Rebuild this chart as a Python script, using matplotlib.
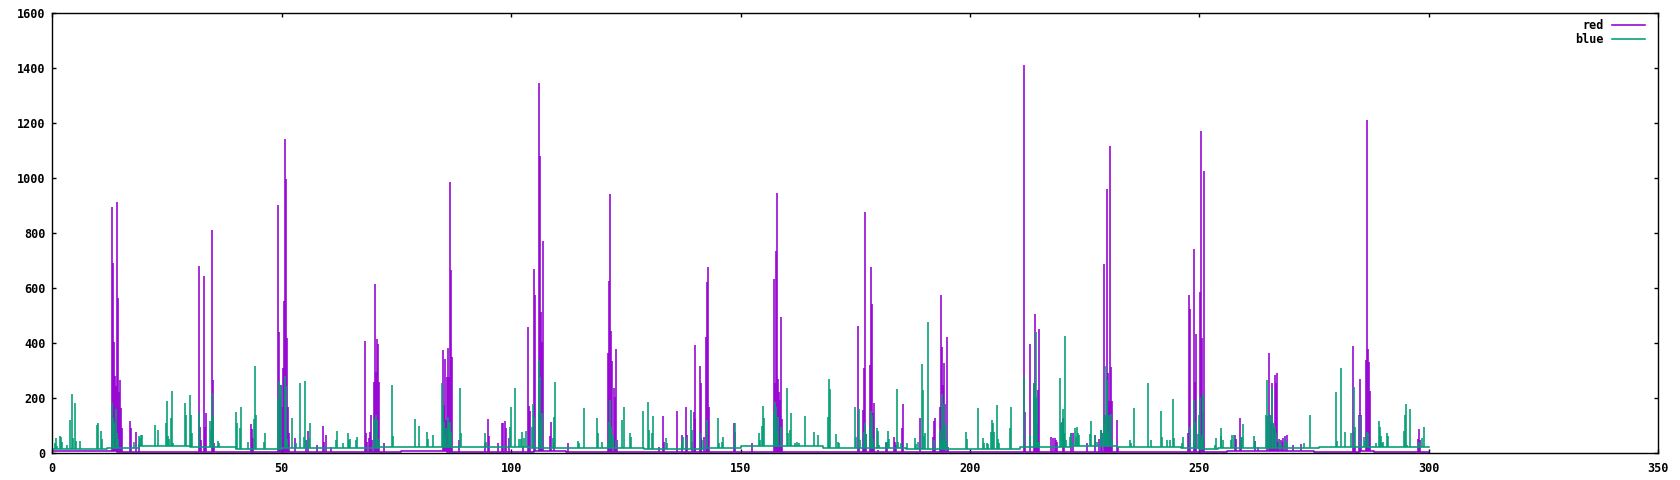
import numpy as np
import matplotlib
matplotlib.use("Agg")
import matplotlib.pyplot as plt
from matplotlib.lines import Line2D

# ---------------- data ----------------
red_x = [13.10, 13.32, 13.54, 13.76, 13.97, 14.19, 14.34, 14.56, 14.77, 14.99, 15.21, 17.03, 17.25, 18.34, 18.85,
         31.88, 32.10, 32.31, 32.97, 33.19, 33.41, 34.72, 34.93, 35.15,
         43.23, 43.45, 43.67,
         49.13, 49.34, 49.56, 49.78, 50.00, 50.22, 50.44, 50.66, 50.87, 51.09, 51.31, 51.53,
         52.91, 55.31, 55.68, 57.71, 58.95, 59.17, 59.61, 60.63,
         68.12, 68.34, 68.56, 68.92, 69.14, 69.36, 69.65, 70.09, 70.31, 70.52, 70.74, 70.96, 71.18, 72.34,
         85.15, 85.37, 85.59, 85.81, 86.03, 86.24, 86.46, 86.68, 86.90, 87.12, 88.65,
         94.32, 94.98, 95.20, 97.16, 97.96, 98.18, 98.69, 98.91, 99.56,
         102.55, 103.71, 103.93, 104.15, 105.02, 105.24, 106.11, 106.33, 106.55, 106.77, 106.99,
         108.44, 108.66, 109.32, 112.45,
         121.18, 121.40, 121.62, 121.83, 122.05, 122.49, 122.71, 122.93, 123.14,
         132.17, 133.19, 133.41, 136.24, 137.19, 138.21, 138.43, 139.37, 139.74, 139.96, 140.17,
         141.05, 141.27, 141.48, 141.92, 142.36, 142.58, 142.79, 143.01, 148.54, 148.76, 152.47,
         157.21, 157.42, 157.64, 157.86, 158.08, 158.30, 158.52, 158.73, 158.95,
         175.55, 175.76, 176.64, 176.86, 177.07, 177.29, 178.17, 178.38, 178.60, 178.82, 179.04, 179.91,
         181.66, 181.88, 183.41, 183.62, 183.84, 185.15, 185.37, 189.08, 191.92, 192.14, 192.36,
         193.45, 193.67, 193.89, 194.10, 194.32, 194.54, 194.98, 195.20,
         211.79, 212.01, 213.10, 213.97, 214.19, 214.41, 214.63, 214.85, 215.07,
         217.69, 218.12, 218.56, 218.78, 219.00, 220.31, 220.50, 222.05, 222.49, 225.55, 227.20,
         228.17, 228.60, 228.82, 229.26, 229.48, 229.69, 229.91, 230.13, 230.35, 230.57, 230.79, 231.00,
         232.10, 232.31,
         247.60, 247.82, 248.03, 248.91, 249.13, 249.34, 250.22, 250.44, 250.66, 250.87, 251.09,
         257.71, 257.93, 258.73, 258.95, 262.01, 262.66,
         264.63, 265.07, 265.28, 265.50, 265.72, 265.94, 266.16, 266.38, 266.59, 266.81, 267.03, 267.25,
         267.69, 267.90, 268.12, 268.56, 269.00, 270.31, 272.05,
         283.41, 283.62, 283.84, 284.72, 284.93, 285.15, 286.24, 286.46, 286.68, 286.90, 287.12,
         297.60, 297.82, 298.03]
red_y = [896, 692, 406, 281, 245, 914, 565, 224, 267, 165, 91, 118, 92, 78, 34,
         681, 97, 48, 645, 97, 145, 812, 267, 39,
         107, 87, 57,
         903, 441, 200, 248, 170, 309, 554, 1143, 998, 419, 170, 73,
         56, 48, 81, 29, 99, 41, 67, 24,
         408, 73, 40, 55, 78, 139, 48, 261, 616, 296, 416, 398, 261, 39,
         376, 176, 343, 121, 279, 382, 279, 987, 667, 349, 48,
         36, 125, 63, 39, 109, 109, 118, 92, 55,
         24, 458, 172, 155, 669, 576, 1347, 1081, 514, 405, 772,
         63, 115, 36, 36,
         364, 627, 942, 445, 337, 239, 206, 379, 48,
         24, 136, 42, 154, 67, 170, 67, 42, 149, 394, 125,
         318, 255, 55, 61, 422, 623, 678, 170, 109, 79, 36,
         634, 257, 737, 948, 270, 224, 194, 496, 124,
         463, 24, 158, 309, 878, 70, 321, 678, 543, 145, 182, 12,
         36, 42, 58, 42, 30, 93, 179, 130, 61, 119, 127,
         167, 576, 387, 248, 327, 179, 422, 24,
         1412, 149, 398, 255, 507, 206, 103, 230, 452,
         58, 57, 55, 48, 42, 127, 72, 73, 73, 36, 66,
         51, 85, 73, 689, 139, 139, 961, 291, 190, 1118, 313, 190,
         121, 24,
         73, 576, 525, 743, 261, 434, 585, 1172, 418, 145, 1027,
         67, 51, 130, 48, 46, 24,
         137, 366, 139, 109, 255, 109, 97, 285, 255, 291, 42, 51,
         48, 42, 55, 63, 67, 30, 33,
         390, 73, 24, 139, 270, 139, 339, 1212, 379, 333, 227,
         51, 88, 48]

blue_x = [0.58, 0.87, 1.09, 1.67, 1.89, 2.11, 3.28, 3.93, 4.37, 4.59, 5.02, 5.24, 6.11,
          9.83, 10.04, 10.63, 10.84, 13.10, 13.32, 13.54, 13.97, 14.19, 14.41, 17.76,
          19.00, 19.21, 19.43, 19.65, 22.49, 23.14, 24.75, 24.89, 25.11, 25.33, 25.76, 25.98, 26.20,
          28.82, 29.04, 29.91, 30.13, 30.35, 31.88, 34.28, 34.50, 34.72, 34.93, 36.03, 36.24,
          40.10, 40.32, 40.83, 41.05, 42.58, 43.89, 44.10, 44.32, 46.14, 46.36,
          49.20, 49.42, 49.85, 50.66, 50.87, 51.09, 52.18, 53.06, 53.93, 54.80, 55.02, 55.24,
          55.90, 56.11, 61.86, 62.01, 63.32, 64.41, 64.63, 64.85, 66.16, 66.38,
          70.09, 70.52, 70.74, 71.18, 74.02, 74.24, 79.04, 79.91,
          81.66, 81.88, 82.97, 84.93, 85.15, 85.37, 85.59, 85.81, 86.24, 86.46, 86.68, 86.90,
          88.86, 89.08, 94.32, 94.54, 99.78, 100.00, 100.87, 101.75, 102.18, 102.40, 102.84, 103.28,
          104.59, 104.80, 105.02, 106.11, 106.33, 106.55, 106.77, 109.17, 109.39, 109.61,
          114.63, 114.85, 115.94, 118.78, 119.00, 119.87, 121.18, 121.40, 121.62, 121.83, 122.27, 122.93,
          124.24, 124.67, 125.98, 126.20, 128.82, 129.91, 130.13, 130.79, 131.00, 133.84, 134.06,
          137.19, 137.41, 138.21, 139.30, 139.52, 141.05, 141.70, 142.58, 144.98, 145.20, 145.85, 146.07,
          148.76, 153.93, 154.15, 154.59, 154.80, 155.02, 157.21, 157.42, 157.64, 157.86, 158.08, 158.73,
          160.04, 160.26, 160.70, 160.92, 161.79, 162.23, 162.66, 164.10, 165.94, 166.81,
          169.00, 169.21, 169.43, 170.74, 171.18, 171.40, 174.89, 175.11, 175.76, 175.98, 176.86, 177.07,
          177.29, 178.17, 178.38, 178.60, 178.82, 179.69, 179.91, 180.13, 181.66, 182.10, 182.31,
          184.06, 184.28, 184.93, 186.24, 187.99, 188.21, 188.65, 189.52, 189.74, 189.96, 190.17, 190.83,
          192.14, 193.45, 193.67, 193.89, 194.10, 194.32, 194.54, 194.76, 194.98,
          199.13, 199.34, 201.75, 202.84, 203.06, 203.71, 203.93, 204.59, 204.80, 205.02, 205.24,
          205.90, 206.11, 206.33, 208.73, 208.95, 211.79, 213.10, 213.97, 214.19, 214.41, 214.63,
          214.85, 215.07, 219.65, 219.87, 220.09, 220.31, 220.52, 220.74, 220.96, 221.83, 222.05,
          222.27, 222.93, 223.14, 223.36, 223.58, 223.80, 226.20, 226.42, 227.29, 227.73, 228.60,
          228.82, 229.26, 229.48, 229.69, 229.91, 230.13, 230.35, 230.79, 231.00,
          234.93, 235.15, 235.81, 238.86, 239.52, 241.70, 241.92, 243.01, 243.67, 244.32, 244.54,
          246.29, 246.51, 248.03, 248.91, 249.13, 249.78, 250.00, 250.22, 250.44, 250.66, 250.87,
          253.49, 253.71, 254.59, 254.80, 255.24, 256.77, 256.99, 257.64, 258.95, 259.17, 259.39,
          261.79, 262.01, 264.41, 264.63, 265.07, 265.28, 265.72, 265.94, 266.38, 266.59, 267.25,
          267.69, 268.56, 269.00, 272.71, 274.02, 279.69, 279.91, 280.79, 281.66, 282.97, 283.62,
          283.84, 284.93, 285.81, 286.03, 286.46, 286.68, 288.43, 289.08, 289.30, 289.52, 289.74,
          289.96, 290.83, 291.05, 294.54, 294.76, 294.98, 295.20, 295.85, 297.82, 298.47, 298.91]
blue_y = [36, 57, 28, 63, 61, 42, 30, 121, 216, 56, 183, 46, 46,
          103, 110, 81, 51, 182, 127, 109, 160, 73, 51, 42,
          63, 57, 67, 67, 103, 85, 109, 190, 63, 51, 127, 227, 36,
          183, 139, 212, 139, 75, 145, 118, 85, 218, 136, 45, 36,
          149, 109, 92, 167, 40, 124, 318, 138, 42, 73,
          196, 263, 248, 281, 246, 51, 128, 36, 256, 58, 263, 48,
          57, 109, 48, 81, 36, 73, 48, 52, 48, 58,
          124, 139, 121, 51, 248, 63, 124, 99,
          76, 51, 65, 255, 176, 115, 61, 91, 133, 109, 115, 79,
          236, 73, 73, 42, 95, 167, 236, 51, 51, 79, 55, 81,
          97, 178, 133, 339, 279, 115, 145, 55, 133, 258,
          46, 36, 164, 127, 73, 42, 42, 115, 194, 97, 67, 48,
          121, 167, 73, 61, 154, 185, 85, 75, 136, 55, 36,
          42, 61, 58, 158, 85, 73, 48, 121, 127, 36, 42, 58,
          112, 73, 48, 99, 172, 127, 145, 188, 167, 73, 133, 97,
          236, 73, 85, 145, 36, 42, 36, 135, 76, 67,
          131, 270, 234, 69, 42, 36, 167, 61, 161, 48, 79, 112,
          70, 93, 155, 139, 51, 93, 81, 30, 42, 82, 51,
          234, 42, 39, 36, 55, 33, 42, 325, 230, 63, 75, 478,
          48, 85, 42, 216, 48, 179, 48, 107, 34,
          76, 51, 165, 55, 36, 36, 33, 79, 121, 109, 76,
          176, 51, 36, 91, 170, 281, 67, 255, 224, 441, 206,
          42, 40, 275, 109, 115, 160, 73, 427, 48, 61, 73,
          42, 93, 61, 95, 73, 67, 69, 118, 67, 42, 85,
          73, 139, 109, 318, 267, 73, 139, 142, 48,
          48, 36, 165, 256, 48, 154, 61, 48, 48, 198, 57,
          36, 61, 95, 194, 115, 69, 139, 206, 48, 67, 216,
          30, 57, 91, 63, 48, 48, 67, 67, 58, 61, 107,
          63, 42, 139, 267, 143, 133, 239, 109, 99, 73, 46,
          36, 51, 42, 36, 139, 223, 45, 311, 76, 75, 240,
          97, 136, 61, 45, 79, 73, 36, 119, 95, 63, 36,
          42, 73, 64, 81, 139, 178, 30, 161, 42, 55, 97]

# baselines (step levels starting at each x)
red_base_x = [0, 14, 30, 45, 76, 86, 105, 112, 150, 160, 207, 212, 256, 275, 285, 288, 300]
red_base_y = [7, 5, 4, 4, 10, 5, 9, 4, 6, 4, 6, 4, 7, 5, 9, 4, 4]
blue_base_x = [0, 12, 19, 30, 40, 50, 71, 100, 104, 109, 129, 142, 150, 168, 186, 200, 211,
               222, 232, 246, 250, 254, 261, 276, 282, 300]
blue_base_y = [17, 20, 26, 23, 17, 18, 23, 24, 20, 18, 14, 20, 26, 20, 14, 17, 23,
               26, 23, 18, 15, 19, 18, 23, 24, 24]

x_ticks = [0, 50, 100, 150, 200, 250, 300, 350]
y_ticks = [0, 200, 400, 600, 800, 1000, 1200, 1400, 1600]
series_names = ["red", "blue"]

# ---------------- plot ----------------
RED = "#9400D3"
BLUE = "#009E73"
FONT = dict(family="DejaVu Sans Mono", weight="bold", size=8.5)
LW = 1.15

fig = plt.figure(figsize=(16.8, 4.8), dpi=100)
ax = fig.add_axes([52.3 / 1680, 26.7 / 480, 1606 / 1680, 440 / 480])


def base_at(xs, bx, by):
    idx = np.searchsorted(bx, xs, side="right") - 1
    idx = np.clip(idx, 0, len(by) - 1)
    return np.asarray(by)[idx]


rx = np.asarray(red_x)
bx = np.asarray(blue_x)
ax.plot(red_base_x, red_base_y, drawstyle="steps-post", color=RED, lw=LW)
ax.vlines(rx, base_at(rx, red_base_x, red_base_y), red_y, color=RED, lw=LW)
ax.plot(blue_base_x, blue_base_y, drawstyle="steps-post", color=BLUE, lw=LW)
ax.vlines(bx, base_at(bx, blue_base_x, blue_base_y), blue_y, color=BLUE, lw=LW)

ax.set_xlim(0, 350)
ax.set_ylim(0, 1600)
ax.set_xticks(x_ticks)
ax.set_yticks(y_ticks)
ax.set_xticklabels([str(t) for t in x_ticks], fontdict=FONT)
ax.set_yticklabels([str(t) for t in y_ticks], fontdict=FONT)
ax.tick_params(direction="in", length=3, width=1, top=True, right=True, color="black")
ax.tick_params(axis="x", pad=6)
ax.tick_params(axis="y", pad=5)
for s in ax.spines.values():
    s.set_linewidth(1.0)
    s.set_color("black")

handles = [Line2D([], [], color=RED, lw=LW), Line2D([], [], color=BLUE, lw=LW)]
leg = ax.legend(handles, series_names, loc="upper right", bbox_to_anchor=(0.9917, 0.987),
                frameon=False, markerfirst=False, handlelength=2.8, handletextpad=0.7,
                borderaxespad=0, borderpad=0, labelspacing=0.1,
                prop=dict(family="DejaVu Sans Mono", weight="bold", size=8.5))

fig.savefig("out.png", dpi=100)
